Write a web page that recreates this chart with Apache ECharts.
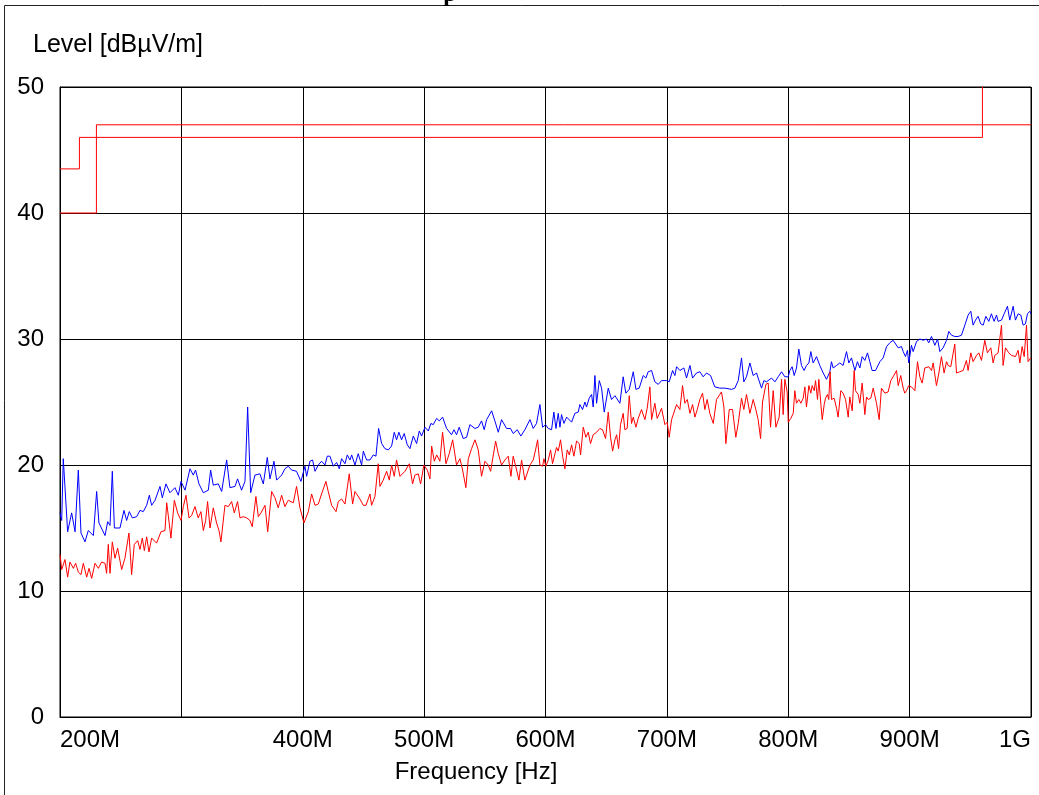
<!DOCTYPE html>
<html>
<head>
<meta charset="utf-8">
<script src="https://cdn.jsdelivr.net/npm/echarts@6/dist/echarts.min.js"></script>
<style>
html,body{margin:0;padding:0;background:#fff;}
#chart{width:1039px;height:795px;}
</style>
</head>
<body>
<div id="chart"></div>
<script>
// Blue trace: [frequency MHz, level dBµV/m]
const blueTrace = [[200,16.2],[201.4,15.6],[202.7,20.5],[206.3,14.7],[209.6,16.2],[211,16.2],[212.4,14.7],[215.1,19.6],[217.3,14.6],[220.6,13.9],[223.3,14.8],[227.5,14.4],[230.2,17.9],[232.1,15.4],[237.1,14.4],[239.3,15.5],[241.2,15.2],[243.1,19.5],[244.8,15.0],[249.4,15.0],[252.7,16.4],[254.9,15.6],[257.1,16.3],[259.6,15.8],[263.2,15.9],[265.9,16.4],[268.6,16.3],[271.4,16.8],[273.6,17.6],[275.5,16.8],[278.3,17.2],[282.4,18.3],[284.3,17.4],[287.3,18.5],[290.6,17.8],[294.7,18.2],[297.5,17.6],[299.7,18.7],[303,18.0],[307.1,19.7],[309.8,19.2],[311.7,19.6],[314.5,18.5],[318.1,17.8],[322.2,18.0],[324.1,19.6],[326.3,18.4],[330.4,18.5],[333.2,17.9],[337.3,20.4],[340,18.2],[344.2,18.3],[346.3,18.9],[349.6,18.0],[352.4,18.7],[354.6,24.6],[357.1,17.8],[360.6,19.2],[364.7,19.3],[367.5,18.5],[370.8,20.6],[373,18.9],[376.3,20.3],[378.5,18.8],[382.6,19.2],[385.3,19.7],[388.1,19.9],[390.8,19.6],[394.9,19.5],[398.5,18.7],
[399.9,18.8],[401.8,19.9],[403.2,19.1],[405.9,20.3],[408.1,20.4],[410.1,19.5],[412.8,20.0],[415.5,20.3],[418.3,20.0],[420.2,20.7],[422.4,20.7],[425.2,19.9],[427.9,20.2],[430.1,19.7],[432,20.5],[434.8,20.1],[436.7,20.8],[438.9,20.4],[440.3,20.8],[443,20.0],[445.7,20.9],[448.5,20.0],[449.9,21.1],[452.6,20.4],[455.4,20.4],[458.1,20.8],[460.3,20.7],[462.5,22.9],[465,21.7],[467.7,21.3],[470.5,21.2],[473.2,21.5],[475.4,22.6],[477.3,22.0],[479.2,22.6],[481.4,22.0],[483.6,22.5],[486.1,21.6],[488.3,21.3],[491.1,22.3],[493.8,21.7],[496,22.7],[497.9,22.3],[500.7,23.0],[503.4,22.7],[505.6,23.3],[507.5,23.2],[510.3,23.7],[512.5,23.5],[515.2,23.8],[518.5,22.9],[522.6,22.4],[524.6,22.8],[526.7,22.4],[528.9,23.0],[532.2,22.1],[535,22.2],[537.7,23.2],[541.9,22.9],[544.6,23.0],[547.3,23.5],[549.5,22.8],[551.5,23.6],[555.6,24.3],[558.3,23.5],[561.1,22.6],[563.8,23.6],[567.9,22.9],[571.2,22.9],[573.4,22.5],[576.7,22.8],[579.7,22.3],[583,22.8],[587.2,23.6],[589.9,22.9],[592.6,23.3],[595.4,24.8],[597.6,23.0],
[600.1,23.2],[602.3,22.9],[605,22.8],[606.9,24.2],[608.6,22.9],[610.5,24.1],[611.9,23.0],[613.2,24.0],[615.2,23.3],[617.4,23.8],[621.5,23.4],[624.2,24.1],[627,24.2],[628.3,24.8],[630.5,24.4],[632.5,25.0],[633.8,24.6],[636,25.3],[638,25.6],[639.3,24.6],[640.7,27.1],[642.1,24.9],[644.3,26.7],[646.2,26.1],[648.4,24.2],[651.7,26.1],[654.4,25.2],[657.2,25.5],[661.3,24.9],[664,27.0],[666.2,25.7],[669,26.0],[672.3,27.4],[674.5,26.0],[677.2,26.1],[680.5,27.1],[682.7,26.9],[684.6,27.4],[687.4,27.5],[690.1,26.6],[692.9,26.4],[695.6,26.7],[699.7,26.7],[701.9,26.6],[704.7,27.5],[706.6,27.1],[708,27.8],[710.7,27.5],[714,27.7],[716.2,26.9],[719,27.9],[721.2,26.9],[724.4,27.3],[727.2,27.4],[729.9,27.0],[732.7,27.3],[736,27.1],[739.5,26.2],[743.7,26.1],[747.8,26.1],[753.3,26.0],[756,26.1],[758.8,26.7],[761.5,28.5],[763.4,26.6],[765.6,27.0],[768.4,28.1],[771.1,27.1],[773.9,27.3],[775.2,26.9],[778,26.1],[779.9,26.7],[782.1,26.6],[786.2,26.9],[789,26.6],[791.7,27.0],[794.5,27.4],[797.2,27.0],[800,27.0],
[801.3,27.5],[803.2,27.8],[804.9,27.1],[806.8,27.7],[808.7,29.2],[810.9,27.9],[813.1,27.5],[815,27.9],[817,28.1],[818.6,29.0],[820.5,28.1],[823.3,28.6],[826,27.9],[828.8,27.3],[831.5,26.8],[834.3,27.4],[835.6,28.2],[837,27.7],[839.8,27.9],[842.5,28.1],[845.2,27.9],[848,29.0],[849.9,28.1],[852.1,28.5],[854.9,27.5],[857,28.2],[859,27.7],[860.9,28.6],[863.1,28.3],[865.3,28.9],[867.2,28.2],[869.1,27.5],[871.9,27.5],[875.5,28.2],[878.2,28.5],[881,29.4],[883.7,29.7],[886.4,29.9],[887.8,29.9],[890.6,29.3],[893.3,29.4],[894.7,29.0],[896.6,28.6],[898.2,29.1],[899.3,28.1],[901.5,29.5],[902.9,29.0],[905.7,29.8],[908.4,30.0],[911.2,29.9],[913.9,30.0],[915.8,29.7],[918,30.2],[920.8,29.5],[923,30.0],[924.9,29.0],[927.6,29.3],[930.4,29.9],[932.3,30.6],[934.5,30.3],[937.2,30.2],[940,30.2],[942.7,30.3],[945.5,31.1],[948.2,31.9],[950.4,32.2],[952.3,31.1],[954.3,31.5],[956.4,31.8],[958.6,31.2],[960.6,31.1],[962.8,31.8],[965.2,31.4],[967.4,32.0],[969.6,31.4],[971.6,31.9],[972.9,31.4],[975.7,31.5],[977.9,32.0],[980.6,32.6],[982.5,31.5],[985.3,32.6],[987.2,31.5],[989.4,32.0],[991.6,31.9],[993.5,31.1],[995.4,31.2],[997.1,32.0],[999,32.2],[1000,32.0]];

// Red trace: [frequency MHz, level dBµV/m]
const redTrace = [[200,12.9],[201.4,11.7],[204.1,12.5],[206.3,11.1],[208.2,12.3],[211,11.8],[212.9,12.2],[215.1,11.5],[217.3,11.3],[219.2,12.2],[222,11.1],[223.9,11.8],[226.1,11.0],[228.8,12.2],[231.6,11.8],[234.3,12.3],[237.1,12.2],[238.4,11.4],[239.8,13.7],[241.2,11.4],[243.1,13.9],[245.3,12.6],[247.5,13.4],[250.8,11.7],[253.5,12.6],[254.9,12.5],[256.8,14.6],[259,11.3],[261.2,13.7],[264,14.0],[265.9,13.3],[267.8,14.2],[269.5,13.2],[271.4,14.3],[273.3,13.1],[275.5,14.2],[279.6,13.8],[283.2,14.7],[286.5,14.8],[287.9,17.0],[289.2,16.0],[291.4,14.2],[294.2,17.2],[296.9,16.2],[299.7,15.6],[301.6,16.7],[303.8,17.6],[306.3,15.8],[308.5,16.0],[311.2,16.7],[313.9,15.8],[316.1,16.3],[318.1,14.8],[320,15.6],[321.6,17.1],[323.6,15.0],[326.3,16.6],[329,15.4],[331,14.8],[332.6,13.9],[335.9,16.8],[338.7,16.7],[341.4,17.1],[343.6,16.2],[346.3,17.1],[348.3,15.8],[351,15.9],[353.8,15.8],[356.5,15.6],[358.4,15.1],[361.4,17.5],[363.4,15.9],[365.6,16.2],[368.9,16.8],[371.1,14.7],[374.4,17.9],[377.1,17.4],[379.8,16.6],[382.6,17.6],[385.3,16.7],[388.1,17.2],[392.2,17.0],[394.9,18.3],[397.7,16.6],
[401,15.4],[404.6,16.3],[407.3,17.7],[410.1,16.8],[412.8,16.9],[415.5,17.7],[419.1,18.7],[421,17.9],[423.8,16.8],[425.2,16.9],[427.4,16.3],[429.3,17.1],[432,17.3],[434.8,16.9],[438.3,19.3],[441.1,16.9],[443,17.9],[447.1,17.3],[449.9,16.8],[452.1,16.8],[455.4,17.7],[456.7,16.8],[459.5,17.5],[462.2,20.1],[463.6,18.3],[466.3,18.8],[469.1,19.5],[471.3,18.8],[473.2,20.0],[475.4,19.1],[477.3,20.4],[480.1,19.1],[484.2,19.5],[487.8,20.1],[490.5,18.5],[492.4,19.2],[495.2,19.3],[497.1,18.5],[499.8,20.0],[502.6,19.6],[504.8,18.9],[506.2,21.5],[508.4,20.3],[510.3,20.8],[513,20.3],[515.2,22.6],[518,20.1],[520.7,20.9],[523.5,22.0],[526.7,20.0],[529.5,20.5],[531.7,19.6],[534.4,18.2],[536.4,20.5],[539.1,21.3],[541.9,22.0],[544.6,21.2],[547.3,19.1],[550.1,20.3],[552.8,20.0],[554.8,19.5],[558.9,21.9],[561.1,20.9],[563.8,20.0],[566.6,20.4],[569.3,20.7],[571.5,19.1],[573.4,20.7],[576.2,19.6],[578.1,18.8],[580.3,20.4],[583,18.8],[587.2,20.0],[589.9,20.4],[591.8,21.2],[593.5,22.0],[595.4,20.0],[597.6,19.9],
[598.7,20.5],[600.3,19.9],[602.3,20.4],[604.2,21.2],[605.8,20.1],[607.8,20.9],[609.1,21.4],[610.5,21.1],[612.4,22.0],[614.1,20.7],[616,19.7],[617.9,21.2],[619.6,20.8],[621.5,21.6],[623.4,20.7],[625.6,21.9],[627.8,21.7],[628.9,20.8],[631.1,23.0],[633.3,22.2],[635.2,22.6],[637.1,21.7],[639.3,22.4],[642.1,22.6],[644.8,22.9],[647,22.8],[649.5,22.1],[651.7,24.2],[653.6,22.2],[655.3,21.1],[657.2,22.0],[658.6,22.4],[660.2,21.3],[661.8,23.2],[664,24.1],[665.4,22.8],[667.3,22.9],[669,25.5],[670.9,23.3],[672.3,23.8],[674.5,23.0],[676.4,23.7],[679.1,24.4],[681.9,23.6],[683.8,24.5],[686,26.2],[687.4,23.6],[690.1,24.9],[692,23.7],[694.3,24.2],[695.6,24.5],[698.4,23.2],[700.3,23.4],[701.9,22.2],[703.9,23.6],[705.2,23.6],[708,24.8],[710.7,24.4],[712.9,26.3],[714.8,24.9],[716.8,25.2],[719,24.1],[721.2,24.8],[723.1,23.8],[725,24.4],[727.2,25.2],[729.4,25.7],[731.3,24.4],[733.2,25.2],[735.4,24.1],[738.2,23.3],[740.9,25.2],[745,25.8],[747,24.6],[748.6,21.7],[751.4,24.4],[754.1,24.4],[756.8,22.2],[758.8,23.3],[761.5,25.3],[763.4,24.4],[765.6,25.6],[768.4,24.1],[771.1,25.2],[773.3,24.4],[775.2,23.6],[777.2,22.1],[778.8,25.0],[781.6,26.4],[783.5,26.5],[785.4,23.0],[787.6,25.9],[789.8,23.0],[792.5,23.8],[794.5,26.8],[795.8,24.0],[797.2,26.8],[799.1,25.8],
[800,23.4],[802.1,23.7],[804.1,24.1],[805.4,25.9],[806.8,24.9],[808.7,25.2],[810.4,24.9],[812.3,25.3],[813.7,26.2],[815,24.6],[817,26.3],[818.6,25.7],[819.7,26.3],[821.4,25.9],[822.5,26.7],[824.1,25.2],[825.2,26.8],[826.9,24.8],[828,23.6],[829.6,24.8],[830.7,25.3],[832.3,25.6],[833.4,25.2],[834.5,27.4],[835.6,25.2],[837.8,25.3],[839.8,24.5],[841.1,23.8],[843.3,25.9],[845.2,25.7],[847.2,25.2],[849.4,23.8],[850.7,25.4],[852.7,24.3],[854.3,27.5],[855.4,25.9],[857.6,25.6],[859,24.9],[860.9,26.5],[863.1,24.0],[864.5,25.4],[865.8,25.2],[868,25.3],[870,26.1],[872.7,24.9],[874.9,23.6],[876.8,26.1],[879.6,25.7],[882.3,25.8],[884.5,26.7],[886.4,27.0],[889.2,27.5],[890.6,26.3],[892.7,27.1],[894.7,26.1],[896,25.7],[897.4,25.9],[899.3,26.3],[901.5,26.2],[904.3,25.9],[906.5,28.2],[908.4,27.0],[910.3,26.5],[912.5,27.7],[915.8,27.8],[918,27.5],[919.4,28.1],[922.1,26.3],[924.1,27.3],[926.2,28.6],[928.4,27.3],[930.4,28.2],[931.7,27.9],[933.9,27.8],[937.2,29.6],[938.6,27.3],[941.3,27.4],[944.1,27.5],[946.8,28.3],[948.2,27.5],[950.4,28.9],[952.3,28.2],[955.1,28.7],[957,28.9],[959.2,28.3],[961.9,29.9],[964.1,28.9],[966.9,29.3],[968.8,28.1],[970.2,28.7],[972.9,28.9],[975.7,31.1],[977,27.9],[979,29.3],[981.7,28.9],[983.9,28.7],[985.3,28.7],[987.2,28.6],[989.4,29.1],[990.8,28.1],[992.7,29.4],[994.4,28.6],[996.3,31.1],[997.6,28.2],[999.8,28.5]];

// Limit lines: [MHz, dBµV/m]
const limitA = [[200,43.5],[216,43.5],[216,46],[960,46],[960,54],[1000,54]];
const limitB = [[200,40],[230,40],[230,47],[1000,47]];

const xTicks = {200:'200M',300:'',400:'400M',500:'500M',600:'600M',700:'700M',800:'800M',900:'900M',1000:'1G'};
const yTitle = 'Level [dBµV/m]';
const xTitle = 'Frequency [Hz]';
const titleFragment = 'p';

const FONT = '"Liberation Sans", Arial, Helvetica, sans-serif';

const chart = echarts.init(document.getElementById('chart'), null, {renderer: 'canvas'});
chart.setOption({
  animation: false,
  backgroundColor: '#fff',
  grid: {left: 60, top: 87, right: 8, bottom: 78, show: true, borderColor: '#000', borderWidth: 1, backgroundColor: 'transparent'},
  xAxis: {
    type: 'value', min: 200, max: 1000, interval: 100,
    axisLine: {show: true, lineStyle: {color: '#000', width: 1}},
    axisTick: {show: false},
    splitLine: {show: true, lineStyle: {color: '#000', width: 1}},
    axisLabel: {
      color: '#000', fontSize: 24, fontFamily: FONT, margin: 11,
      alignMinLabel: 'left', alignMaxLabel: 'right',
      formatter: (v) => (xTicks[v] !== undefined ? xTicks[v] : '')
    }
  },
  yAxis: {
    type: 'value', min: 0, max: 50, interval: 10,
    axisLine: {show: true, lineStyle: {color: '#000', width: 1}},
    axisTick: {show: false},
    splitLine: {show: true, lineStyle: {color: '#000', width: 1}},
    axisLabel: {color: '#000', fontSize: 24, fontFamily: FONT, margin: 16}
  },
  series: [
    {type: 'line', data: limitA, showSymbol: false, lineStyle: {color: '#ff0000', width: 1}, itemStyle:{color:'#ff0000'}, silent: true, z: 2},
    {type: 'line', data: limitB, showSymbol: false, lineStyle: {color: '#ff0000', width: 1}, itemStyle:{color:'#ff0000'}, silent: true, z: 2},
    {type: 'line', data: blueTrace, showSymbol: false, lineStyle: {color: '#0000ff', width: 1}, itemStyle:{color:'#0000ff'}, silent: true, z: 3},
    {type: 'line', data: redTrace, showSymbol: false, lineStyle: {color: '#ff0000', width: 1}, itemStyle:{color:'#ff0000'}, silent: true, z: 4}
  ],
  graphic: [
    {type: 'line', shape: {x1: 4.5, y1: 5.5, x2: 1039, y2: 5.5}, style: {stroke: '#222', lineWidth: 1}, silent: true},
    {type: 'line', shape: {x1: 4.5, y1: 5.5, x2: 4.5, y2: 795}, style: {stroke: '#222', lineWidth: 1}, silent: true},
    {type: 'text', left: 33, top: 33, style: {text: yTitle, fontSize: 25, fontFamily: FONT, fill: '#000'}, silent: true},
    {type: 'text', x: 476, y: 772, style: {text: xTitle, fontSize: 24, fontFamily: FONT, fill: '#000', textAlign: 'center', textVerticalAlign: 'middle'}, silent: true},
    {type: 'text', x: 450, y: -17, style: {text: titleFragment, fontSize: 24, fontWeight: 'bold', fontFamily: '"Liberation Serif", "Times New Roman", serif', fill: '#000', textAlign: 'center', textVerticalAlign: 'top'}, silent: true}
  ]
});
</script>
</body>
</html>
